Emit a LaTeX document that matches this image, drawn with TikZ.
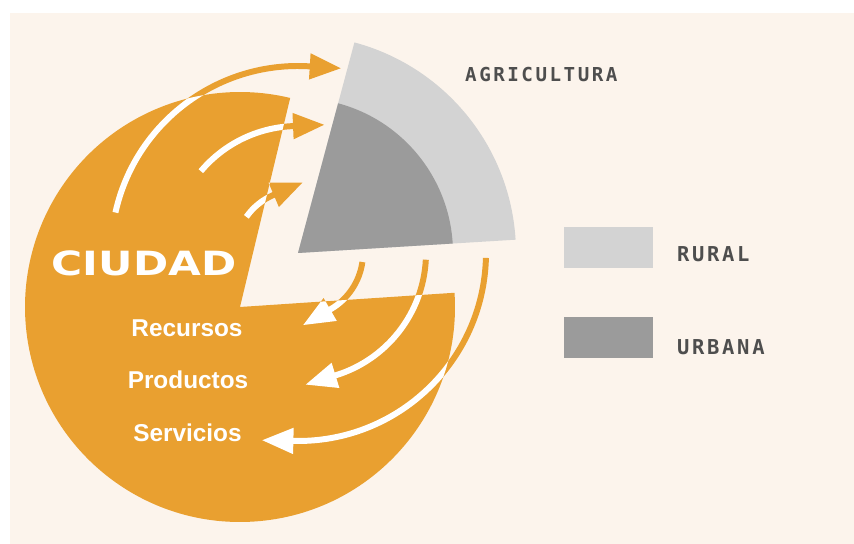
\documentclass[tikz,border=0pt]{standalone}
\usepackage{fontspec}
\setmainfont{Liberation Sans}
\newfontfamily\titulo{DejaVu Sans}
\newfontfamily\mono[LetterSpace=13]{DejaVu Sans Mono}
\usetikzlibrary{arrows.meta}
\definecolor{fondo}{RGB}{252,244,236}
\definecolor{naranja}{RGB}{233,160,48}
\definecolor{rural}{RGB}{211,211,211}
\definecolor{urbana}{RGB}{155,155,155}
\definecolor{texto}{RGB}{78,78,78}
\tikzstyle{flecha}=[line width=5.1pt, -{Triangle[length=27pt, width=21pt]}]
\tikzstyle{caja}=[minimum width=2.67cm, minimum height=1.23cm, inner sep=0pt]
\tikzstyle{blanco}=[text=white, anchor=base, font=\bfseries\fontsize{20.8}{24}\selectfont]
\tikzstyle{etiqueta}=[text=texto, anchor=base west, inner sep=0pt]

% disco de la ciudad sin la porcion de agricultura
\newcommand{\ciudad}[1]{\path[#1] (C) -- ++(-3.8:215) arc[start angle=-3.8, end angle=283.5, radius=215] -- cycle;}
% flujos ciudad -> agricultura y agricultura -> ciudad
\newcommand{\flujos}[1]{%
    \draw[flecha,#1] (G) ++(-167.5:187) arc[start angle=-167.5, end angle=-86.5, radius=187] -- ++(3.5:32);
    \draw[flecha,#1] (G) ++(-139.9:127) arc[start angle=-139.9, end angle=-92.4, radius=127] -- ++(-2.4:32);
    \draw[flecha,#1] (G) ++(-145:63) arc[start angle=-145, end angle=-113, radius=63] -- ++(-23:32);
    \draw[flecha,#1] (G) ++(8:65) arc[start angle=8, end angle=60, radius=65] -- ++(150:32);
    \draw[flecha,#1] (G) ++(3:128) arc[start angle=3, end angle=72.8, radius=128] -- ++(162.8:32);
    \draw[flecha,#1] (G) ++(1.5:188) arc[start angle=1.5, end angle=91.3, radius=188] -- ++(181.3:32);
}

\begin{document}
\begin{tikzpicture}[x=0.03cm, y=-0.03cm]
    \useasboundingbox (0,0) rectangle (854,544);
    \fill[white] (0,0) rectangle (854,544);
    \fill[fondo] (10,13) rectangle (854,544);

    \coordinate (C) at (240,307);
    \coordinate (G) at (298,253);

    \ciudad{fill=naranja}
    \fill[rural] (G) -- ++(-3.5:218) arc[start angle=-3.5, end angle=-75, radius=218] -- cycle;
    \fill[urbana] (G) -- ++(-3.5:155) arc[start angle=-3.5, end angle=-75, radius=155] -- cycle;

    \flujos{naranja}
    \begin{scope}
        \ciudad{clip}
        \flujos{white}
    \end{scope}

    \node[blanco, font=\titulo\bfseries\fontsize{28.5}{30}\selectfont] (ciudadtxt) at (144,276) {\scalebox{1.27}[1]{CIUDAD}};
    \node[blanco] (recursos) at (187,337) {Recursos};
    \node[blanco] (productos) at (188,389) {Productos};
    \node[blanco] (servicios) at (187.5,442) {Servicios};

    \node[etiqueta, font=\mono\bfseries\fontsize{16.4}{18}\selectfont] (agricultura) at (465,82) {AGRICULTURA};
    \node[caja, fill=rural] (rbox) at (608.5,248) {};
    \node[caja, fill=urbana] (ubox) at (608.5,338) {};
    \node[etiqueta, font=\mono\bfseries\fontsize{17.5}{19}\selectfont] (rurallbl) at (677,262) {RURAL};
    \node[etiqueta, font=\mono\bfseries\fontsize{17.5}{19}\selectfont] (urbanalbl) at (677,355) {URBANA};
\end{tikzpicture}
\end{document}
